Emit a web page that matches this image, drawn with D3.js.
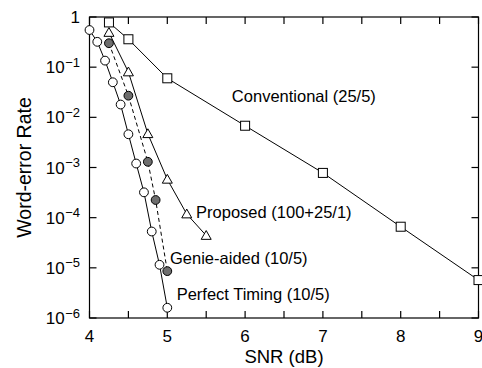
<!DOCTYPE html>
<html><head><meta charset="utf-8">
<script src="https://cdn.jsdelivr.net/npm/d3@7"></script>
<style>body{margin:0;background:#fff}svg{display:block}text{font-family:"Liberation Sans",Arial,Helvetica,sans-serif;fill:#000}</style>
</head><body><svg id="c" width="482" height="368"></svg>
<script>
const perfectX = [4.0,4.1,4.2,4.3,4.4,4.5,4.6,4.7,4.8,4.9,5.0];
const perfectY = [0.55,0.32,0.135,0.05,0.018,0.0046,0.0012,3.2e-4,5.3e-5,1.15e-5,1.6e-6];
const genieX = [4.25,4.5,4.75,4.85,5.0];
const genieY = [0.3,0.027,1.3e-3,2.25e-4,8.6e-6];
const proposedX = [4.25,4.5,4.75,5.0,5.25,5.5];
const proposedY = [0.49,0.08,4.7e-3,5.8e-4,1.18e-4,4.4e-5];
const convX = [4.25,4.5,5,6,7,8,9];
const convY = [0.78,0.36,0.06,0.0068,7.8e-4,6.6e-5,5.7e-6];
const xTicks = [4,5,6,7,8,9];
const xMinor = [4.5,5.5,6.5,7.5,8.5];
const yTickExp = [0,-1,-2,-3,-4,-5,-6];
const labels = [
  {text:"Conventional (25/5)", x:5.83, y:0.0198},
  {text:"Proposed (100+25/1)", x:5.37, y:9.9e-5},
  {text:"Genie-aided (10/5)", x:5.035, y:1.19e-5},
  {text:"Perfect Timing (10/5)", x:5.12, y:2.29e-6}
];

const svg = d3.select("#c");
const L=89.5,R=478.5,T=17,B=318;
const x = d3.scaleLinear().domain([4,9]).range([L,R]);
const y = d3.scaleLog().domain([1e-6,1]).range([B,T]);

svg.append("rect").attr("x",L).attr("y",T).attr("width",R-L).attr("height",B-T)
  .attr("fill","none").attr("stroke","#000").attr("stroke-width",1.2);

const tl = 7;
const g = svg.append("g").attr("stroke","#000").attr("stroke-width",1.2);
xTicks.concat(xMinor).forEach(v=>{
  g.append("line").attr("x1",x(v)).attr("x2",x(v)).attr("y1",B).attr("y2",B-tl);
  g.append("line").attr("x1",x(v)).attr("x2",x(v)).attr("y1",T).attr("y2",T+tl);
});
yTickExp.forEach(e=>{
  const v=Math.pow(10,e);
  g.append("line").attr("x1",L).attr("x2",L+tl).attr("y1",y(v)).attr("y2",y(v));
  g.append("line").attr("x1",R).attr("x2",R-tl).attr("y1",y(v)).attr("y2",y(v));
});

xTicks.forEach(v=>{
  svg.append("text").attr("x",x(v)).attr("y",342).attr("text-anchor","middle").attr("font-size",17).text(v);
});
yTickExp.forEach(e=>{
  const t = svg.append("text").attr("x",80).attr("y",y(Math.pow(10,e))).attr("text-anchor","end").attr("font-size",17).attr("dy","0.36em");
  if(e===0){ t.text("1"); }
  else {
    t.append("tspan").text("10");
    t.append("tspan").attr("font-size",13).attr("dx",0.5).attr("dy","-0.5em").text("\u2212"+(-e));
  }
});
svg.append("text").attr("x",(L+R)/2).attr("y",362.5).attr("text-anchor","middle").attr("font-size",18.5).text("SNR (dB)");
svg.append("text").attr("transform",`translate(31,${(T+B)/2}) rotate(-90)`)
  .attr("text-anchor","middle").attr("font-size",19.5).text("Word-error Rate");

const line = d3.line().x(d=>x(d[0])).y(d=>y(d[1]));
const zip=(a,b)=>a.map((v,i)=>[v,b[i]]);
const P=zip(perfectX,perfectY),G=zip(genieX,genieY),Pr=zip(proposedX,proposedY),C=zip(convX,convY);
[[P,null],[G,"4,3"],[Pr,null],[C,null]].forEach(([d,da])=>{
  svg.append("path").attr("d",line(d)).attr("fill","none").attr("stroke","#000").attr("stroke-width",1)
    .attr("stroke-dasharray",da);
});
C.forEach(d=>svg.append("rect").attr("x",x(d[0])-4.5).attr("y",y(d[1])-4.5).attr("width",9).attr("height",9)
  .attr("fill","#fff").attr("stroke","#000").attr("stroke-width",1));
Pr.forEach(d=>{const cx=x(d[0]),cy=y(d[1]);
  svg.append("path").attr("d",`M${cx},${cy-5}L${cx+5},${cy+3.8}L${cx-5},${cy+3.8}Z`).attr("fill","#fff").attr("stroke","#000").attr("stroke-width",1);});
G.forEach(d=>svg.append("circle").attr("cx",x(d[0])).attr("cy",y(d[1])).attr("r",4.4)
  .attr("fill","#6e6e6e").attr("stroke","#000").attr("stroke-width",1));
P.forEach(d=>svg.append("circle").attr("cx",x(d[0])).attr("cy",y(d[1])).attr("r",4.4)
  .attr("fill","#fff").attr("stroke","#000").attr("stroke-width",1));

labels.forEach(l=>{
  svg.append("text").attr("x",x(l.x)).attr("y",y(l.y)).attr("font-size",16.5).text(l.text);
});
</script></body></html>
